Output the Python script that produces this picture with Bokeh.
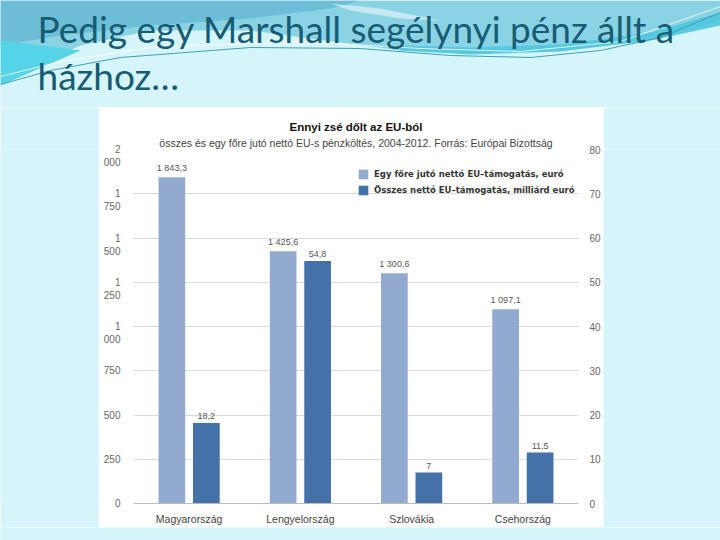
from bokeh.plotting import figure
from bokeh.layouts import column, row
from bokeh.models import (Range1d, FactorRange, LinearAxis, FixedTicker, ColumnDataSource,
                          LabelSet, Label, Legend, Title)
from bokeh.transform import dodge
from bokeh.core.properties import value
from bokeh.embed import file_html
from bokeh.resources import INLINE

# ---------------- data ----------------
categories = ["Magyarország", "Lengyelország", "Szlovákia", "Csehország"]
per_capita_eur = [1843.3, 1425.6, 1300.6, 1097.1]
total_bn_eur = [18.2, 54.8, 7, 11.5]
left_ticks = [0, 250, 500, 750, 1000, 1250, 1500, 1750, 2000]
left_tick_labels = ["0", "250", "500", "750", " \n1\n000", " \n1\n250", " \n1\n500", " \n1\n750",
                    " \n2\n000"]
right_ticks = [0, 10, 20, 30, 40, 50, 60, 70, 80]
series_names = ["Egy főre jutó nettó EU–támogatás, euró",
                "Összes nettó EU–támogatás, milliárd euró"]
slide_title = ["Pedig egy Marshall segélynyi pénz állt a", "házhoz…"]
chart_title = "Ennyi zsé dőlt az EU-ból"
chart_subtitle = "összes és egy főre jutó nettó EU-s pénzköltés, 2004-2012. Forrás: Európai Bizottság"


def fmt(v):
    if float(v).is_integer():
        s = f"{int(v):,}"
    else:
        s = f"{v:,.1f}"
    return s.replace(",", " ").replace(".", ",")


BG = "#D6F5FA"


def blank(w, h):
    f = figure(width=w, height=h, output_backend="svg", toolbar_location=None,
               x_axis_location=None, y_axis_location=None,
               x_range=Range1d(0, 1), y_range=Range1d(0, 1),
               min_border_left=0, min_border_right=0, min_border_top=0, min_border_bottom=0,
               background_fill_color=BG, border_fill_color=BG, outline_line_color=None)
    f.grid.grid_line_color = None
    return f


# ---------------- slide header (title + waves) ----------------
top = figure(width=720, height=107, output_backend="svg", toolbar_location=None,
             x_axis_location=None, y_axis_location=None,
             x_range=Range1d(0, 720), y_range=Range1d(107, 0),
             min_border_left=0, min_border_right=0, min_border_top=0, min_border_bottom=0,
             background_fill_color=BG, border_fill_color=BG, outline_line_color=None)
top.grid.grid_line_color = None

band = [(0, 0), (720, 0), (720, 20), (650, 38), (560, 50), (470, 53), (400, 50), (340, 42),
        (250, 30), (150, 30), (80, 45), (0, 80)]
dark = [(0, 0), (360, 0), (330, 8), (250, 18), (150, 25), (60, 35), (0, 45)]
wedge = [(0, 40), (40, 45), (80, 50), (0, 85)]
strip = [(400, 45), (470, 47), (560, 44), (650, 32), (720, 12), (720, 25), (650, 40), (560, 51),
         (470, 54), (400, 50)]
streak = [(330, 3), (380, 8), (440, 20), (400, 18), (350, 10)]
for poly, col, alpha in [(band, "#8AD3E4", 1), (dark, "#6CBDD5", 1), (wedge, "#55D3E7", 1),
                         (strip, "#4CC6DE", 0.9), (streak, "white", 0.5)]:
    top.patch([a for a, b in poly], [b for a, b in poly], fill_color=col, fill_alpha=alpha,
              line_color=None)
lineA = [(0, 84), (50, 70), (120, 57), (250, 47), (360, 48), (450, 55), (530, 57), (600, 50),
         (660, 37), (720, 12)]
lineB = [(0, 76), (60, 61), (150, 47), (300, 41), (420, 48), (520, 51), (620, 41), (720, 6)]
top.line([a for a, b in lineA], [b for a, b in lineA], line_color="#3E9FB8", line_width=1)
top.line([a for a, b in lineB], [b for a, b in lineB], line_color="white", line_alpha=0.8,
         line_width=1)

# baselines at page y 43 and 90 (Bokeh places the alphabetic baseline ~15px lower)
for txt, yb in zip(slide_title, [28, 75]):
    top.add_layout(Label(x=37, y=yb, text=txt, text_align="left", text_baseline="alphabetic",
                         text_font="Lato", text_font_size="37px", text_color="#185C74"))

# ---------------- chart ----------------
src = ColumnDataSource(dict(
    cat=categories,
    pc=per_capita_eur,
    tot=total_bn_eur,
    pc_lbl=[fmt(v) for v in per_capita_eur],
    tot_lbl=[fmt(v) for v in total_bn_eur],
))

p = figure(width=504, height=420, output_backend="svg", toolbar_location=None, title=None,
           x_range=FactorRange(*categories), y_range=Range1d(0, 2000),
           min_border_left=34, min_border_right=20, min_border_top=42, min_border_bottom=21,
           background_fill_color="white", border_fill_color="white", outline_line_color=None)
p.extra_y_ranges = {"right": Range1d(0, 80)}

r1 = p.vbar(x=dodge("cat", -0.155, range=p.x_range), top="pc", width=0.24, source=src,
            fill_color="#92A9D0", line_color=None)
r2 = p.vbar(x=dodge("cat", 0.155, range=p.x_range), top="tot", width=0.24, source=src,
            fill_color="#4471A7", line_color=None, y_range_name="right")

lbl_style = dict(text_font=value("Liberation Sans"), text_font_size="9px", text_color="#555555",
                 text_align="center", text_baseline="bottom", y_offset=4)
p.add_layout(LabelSet(x=dodge("cat", -0.155, range=p.x_range), y="pc", text="pc_lbl",
                      source=src, **lbl_style))
p.add_layout(LabelSet(x=dodge("cat", 0.155, range=p.x_range), y="tot", text="tot_lbl",
                      source=src, y_range_name="right", **lbl_style))

p.xgrid.grid_line_color = None
p.ygrid.ticker = FixedTicker(ticks=left_ticks)
p.ygrid.grid_line_color = "#DADADA"

ax = p.xaxis[0]
ax.axis_line_color = "#BBBBBB"
ax.major_tick_line_color = None
ax.minor_tick_line_color = None
ax.major_label_standoff = 3
ax.major_label_text_font = "Liberation Sans"
ax.major_label_text_font_size = "10.5px"
ax.major_label_text_color = "#444444"

ay = p.yaxis[0]
ay.ticker = FixedTicker(ticks=left_ticks)
ay.major_label_overrides = {t: l for t, l in zip(left_ticks, left_tick_labels)}
ay.axis_line_color = None
ay.major_tick_line_color = None
ay.minor_tick_line_color = None
ay.major_label_standoff = 7
ay.major_label_text_font = "Liberation Sans"
ay.major_label_text_font_size = "10px"
ay.major_label_text_color = "#666666"

ar = LinearAxis(y_range_name="right", ticker=FixedTicker(ticks=right_ticks))
ar.axis_line_color = None
ar.major_tick_line_color = None
ar.minor_tick_line_color = None
ar.major_label_standoff = 5
ar.major_label_text_font = "Liberation Sans"
ar.major_label_text_font_size = "10px"
ar.major_label_text_color = "#666666"
p.add_layout(ar, "right")

legend = Legend(items=[(series_names[0], [r1]), (series_names[1], [r2])],
                location=(224, 307), padding=0, margin=0, spacing=4,
                glyph_width=12, glyph_height=12, label_height=12, label_standoff=5,
                label_text_font="DejaVu Sans", label_text_font_style="bold",
                label_text_font_size="8.5px", label_text_color="#333333",
                background_fill_alpha=0, border_line_color=None)
p.add_layout(legend)

p.add_layout(Title(text=chart_subtitle, align="center", text_font="Liberation Sans",
                   text_font_size="10.5px", text_font_style="normal", text_color="#444444",
                   standoff=2), "above")
p.add_layout(Title(text=chart_title, align="center", text_font="Liberation Sans",
                   text_font_size="11.5px", text_font_style="bold", text_color="#111111",
                   standoff=2), "above")

layout = column(top, row(blank(99, 420), p, blank(117, 420), spacing=0), blank(720, 13),
                spacing=0)

open("out.html", "w").write(file_html(layout, INLINE))
